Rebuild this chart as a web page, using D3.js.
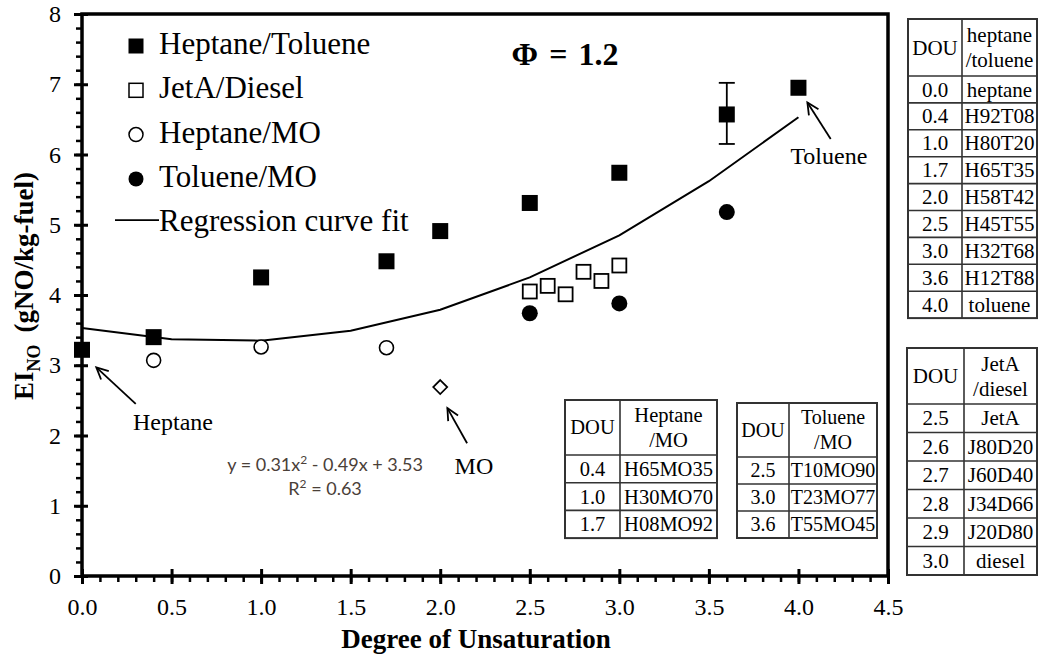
<!DOCTYPE html>
<html>
<head>
<meta charset="utf-8">
<script src="https://cdn.jsdelivr.net/npm/d3@7"></script>
<style>
  body { margin: 0; background: #fff; }
  svg { display: block; }
  text { font-family: "Liberation Serif", "Times New Roman", serif; fill: #000; }
</style>
</head>
<body>
<script>
// ---- data ----
var htX = [0.0, 0.4, 1.0, 1.7, 2.0, 2.5, 3.0, 3.6, 4.0];
var htY = [3.22, 3.40, 4.25, 4.48, 4.91, 5.31, 5.74, 6.57, 6.95];
var errX = 3.6, errLow = 6.15, errHigh = 7.02;

var jdX = [2.5, 2.6, 2.7, 2.8, 2.9, 3.0];
var jdY = [4.05, 4.13, 4.01, 4.33, 4.20, 4.42];

var hmX = [0.4, 1.0, 1.7];
var hmY = [3.07, 3.26, 3.25];

var tmX = [2.5, 3.0, 3.6];
var tmY = [3.74, 3.88, 5.18];

var moX = [2.0];
var moY = [2.69];

var fitX = [0.0, 0.5, 1.0, 1.5, 2.0, 2.5, 3.0, 3.5, 4.0];
var fitY = [3.53, 3.37, 3.35, 3.49, 3.79, 4.25, 4.85, 5.62, 6.53];

var xTicks = [0, 0.5, 1.0, 1.5, 2.0, 2.5, 3.0, 3.5, 4.0, 4.5];
var yTicks = [0, 1, 2, 3, 4, 5, 6, 7, 8];

var legendNames = ["Heptane/Toluene", "JetA/Diesel", "Heptane/MO", "Toluene/MO", "Regression curve fit"];

var tableHT = { head: ["heptane", "/toluene"],
  dou: ["0.0", "0.4", "1.0", "1.7", "2.0", "2.5", "3.0", "3.6", "4.0"],
  name: ["heptane", "H92T08", "H80T20", "H65T35", "H58T42", "H45T55", "H32T68", "H12T88", "toluene"] };
var tableJD = { head: ["JetA", "/diesel"],
  dou: ["2.5", "2.6", "2.7", "2.8", "2.9", "3.0"],
  name: ["JetA", "J80D20", "J60D40", "J34D66", "J20D80", "diesel"] };
var tableHM = { head: ["Heptane", "/MO"],
  dou: ["0.4", "1.0", "1.7"],
  name: ["H65MO35", "H30MO70", "H08MO92"] };
var tableTM = { head: ["Toluene", "/MO"],
  dou: ["2.5", "3.0", "3.6"],
  name: ["T10MO90", "T23MO77", "T55MO45"] };

// annotations in data units: [tipX, tipY, tailX, tailY, label, labelX, labelY]
var notes = [
  [0.08, 2.97, 0.30, 2.45, "Heptane", 0.285, 2.08],
  [2.04, 2.39, 2.15, 1.89, "MO", 2.08, 1.45],
  [4.05, 6.74, 4.18, 6.22, "Toluene", 3.955, 5.87]
];

// ---- layout ----
var W = 1038, H = 660;
var svg = d3.select("body").append("svg").attr("width", W).attr("height", H);

var x = d3.scaleLinear().domain([0, 4.5]).range([82, 888]);
var y = d3.scaleLinear().domain([0, 8]).range([576, 14]);

// minor ticks
var xMinor = d3.range(0, 45).map(function(i){ return i / 10; });
var yMinor = d3.range(0, 40).map(function(i){ return i / 5; });

svg.append("g").attr("transform", "translate(0," + y(0) + ")")
  .call(d3.axisBottom(x).tickValues(xMinor).tickSize(6).tickFormat(""))
  .call(function(g){ g.select(".domain").remove(); g.selectAll("line").attr("stroke-width", 2.5); });
svg.append("g").attr("transform", "translate(" + x(0) + ",0)")
  .call(d3.axisLeft(y).tickValues(yMinor).tickSize(6).tickFormat(""))
  .call(function(g){ g.select(".domain").remove(); g.selectAll("line").attr("stroke-width", 2.5); });

// major ticks, crossing the axis
var xAx = svg.append("g").attr("transform", "translate(0," + y(0) + ")")
  .call(d3.axisBottom(x).tickValues(xTicks).tickSize(8).tickPadding(14).tickFormat(d3.format(".1f")));
xAx.select(".domain").remove();
xAx.selectAll("line").attr("stroke-width", 3).attr("y1", -7);
xAx.selectAll("text").attr("font-size", 24).attr("font-family", "Liberation Serif");

var yAx = svg.append("g").attr("transform", "translate(" + x(0) + ",0)")
  .call(d3.axisLeft(y).tickValues(yTicks).tickSize(8).tickPadding(13).tickFormat(d3.format("d")));
yAx.select(".domain").remove();
yAx.selectAll("line").attr("stroke-width", 3).attr("x1", 6);
yAx.selectAll("text").attr("font-size", 24).attr("font-family", "Liberation Serif");

// frame
svg.append("rect")
  .attr("x", x(0)).attr("y", y(8))
  .attr("width", x(4.5) - x(0)).attr("height", y(0) - y(8))
  .attr("fill", "none").attr("stroke", "#000").attr("stroke-width", 3.5);

// axis titles
svg.append("text").attr("x", 476).attr("y", 648)
  .attr("text-anchor", "middle").attr("font-size", 27).attr("font-weight", "bold")
  .text("Degree of Unsaturation");

var yt = svg.append("text").attr("transform", "translate(33,400) rotate(-90)")
  .attr("font-size", 27).attr("font-weight", "bold");
yt.append("tspan").text("EI");
yt.append("tspan").attr("font-size", 18).attr("dy", 7).text("NO");
yt.append("tspan").attr("dy", -7).attr("dx", 12).text("(gNO/kg-fuel)");

// regression curve
var line = d3.line().x(function(d){ return x(d[0]); }).y(function(d){ return y(d[1]); });
svg.append("path").datum(d3.zip(fitX, fitY))
  .attr("d", line).attr("fill", "none").attr("stroke", "#000").attr("stroke-width", 2);

// error bar
var eb = svg.append("g").attr("stroke", "#000").attr("stroke-width", 1.8);
eb.append("line").attr("x1", x(errX)).attr("x2", x(errX)).attr("y1", y(errLow)).attr("y2", y(errHigh));
[errLow, errHigh].forEach(function(v){
  eb.append("line").attr("x1", x(errX) - 8).attr("x2", x(errX) + 8).attr("y1", y(v)).attr("y2", y(v));
});

// markers
function squares(xs, ys, s, filled){
  svg.append("g").selectAll("rect").data(d3.zip(xs, ys)).enter().append("rect")
    .attr("x", function(d){ return x(d[0]) - s / 2; })
    .attr("y", function(d){ return y(d[1]) - s / 2; })
    .attr("width", s).attr("height", s)
    .attr("fill", filled ? "#000" : "#fff")
    .attr("stroke", "#000").attr("stroke-width", filled ? 0 : 1.8);
}
function circles(xs, ys, r, filled){
  svg.append("g").selectAll("circle").data(d3.zip(xs, ys)).enter().append("circle")
    .attr("cx", function(d){ return x(d[0]); })
    .attr("cy", function(d){ return y(d[1]); })
    .attr("r", r)
    .attr("fill", filled ? "#000" : "#fff")
    .attr("stroke", "#000").attr("stroke-width", filled ? 0 : 1.6);
}
squares(htX, htY, 16, true);
squares(jdX, jdY, 14, false);
circles(hmX, hmY, 7, false);
circles(tmX, tmY, 8, true);

svg.append("g").selectAll("path").data(d3.zip(moX, moY)).enter().append("path")
  .attr("d", function(d){
    var cx = x(d[0]), cy = y(d[1]), r = 7;
    return "M" + cx + "," + (cy - r) + "L" + (cx + r) + "," + cy + "L" + cx + "," + (cy + r) + "L" + (cx - r) + "," + cy + "Z";
  })
  .attr("fill", "#fff").attr("stroke", "#000").attr("stroke-width", 1.7);

// annotations with open arrows
notes.forEach(function(n){
  var tx = x(n[0]), ty = y(n[1]), sx = x(n[2]), sy = y(n[3]);
  var a = Math.atan2(ty - sy, tx - sx), L = 13, spread = 0.45;
  svg.append("line").attr("x1", sx).attr("y1", sy).attr("x2", tx).attr("y2", ty)
    .attr("stroke", "#000").attr("stroke-width", 1.8);
  svg.append("path")
    .attr("d", "M" + (tx - L * Math.cos(a - spread)) + "," + (ty - L * Math.sin(a - spread)) +
               "L" + tx + "," + ty +
               "L" + (tx - L * Math.cos(a + spread)) + "," + (ty - L * Math.sin(a + spread)))
    .attr("fill", "none").attr("stroke", "#000").attr("stroke-width", 1.8);
  svg.append("text").attr("x", x(n[5])).attr("y", y(n[6])).attr("font-size", 24).text(n[4]);
});

// regression equation
var eqStyle = function(t){
  t.attr("text-anchor", "middle").attr("font-size", 18)
   .style("font-family", "Lato, 'Open Sans', sans-serif").style("fill", "#4a4038");
};
var eq = svg.append("text").attr("x", x(1.357)).attr("y", y(1.49)).call(eqStyle);
eq.append("tspan").text("y = 0.31x");
eq.append("tspan").attr("font-size", 12).attr("dy", -7).text("2");
eq.append("tspan").attr("dy", 7).text(" - 0.49x + 3.53");
var r2 = svg.append("text").attr("x", x(1.357)).attr("y", y(1.15)).call(eqStyle);
r2.append("tspan").text("R");
r2.append("tspan").attr("font-size", 12).attr("dy", -7).text("2");
r2.append("tspan").attr("dy", 7).text(" = 0.63");

// phi label
svg.append("text").attr("x", 565).attr("y", 65).attr("text-anchor", "middle")
  .attr("font-size", 32).attr("font-weight", "bold").style("word-spacing", "3px").text("\u03A6 = 1.2");

// legend
var lg = svg.append("g");
legendNames.forEach(function(name, i){
  var cy = 46 + i * 44.3;
  var mx = 136;
  if (i === 0) lg.append("rect").attr("x", mx - 7.5).attr("y", cy - 7.5).attr("width", 15).attr("height", 15).attr("fill", "#000");
  if (i === 1) lg.append("rect").attr("x", mx - 7).attr("y", cy - 7).attr("width", 14).attr("height", 14).attr("fill", "#fff").attr("stroke", "#000").attr("stroke-width", 1.5);
  if (i === 2) lg.append("circle").attr("cx", mx).attr("cy", cy).attr("r", 7).attr("fill", "#fff").attr("stroke", "#000").attr("stroke-width", 1.5);
  if (i === 3) lg.append("circle").attr("cx", mx).attr("cy", cy).attr("r", 7.5).attr("fill", "#000");
  if (i === 4) lg.append("line").attr("x1", 115).attr("x2", 159).attr("y1", cy - 3).attr("y2", cy - 3).attr("stroke", "#000").attr("stroke-width", 1.8);
  lg.append("text").attr("x", 159).attr("y", cy + 8).attr("font-size", 31).text(name);
});

// tables
function drawTable(t, bx, by, w, c1, headH, rowH, fs){
  var g = svg.append("g");
  var h = headH + rowH * t.dou.length;
  g.append("rect").attr("x", bx).attr("y", by).attr("width", w).attr("height", h)
    .attr("fill", "#fff").attr("stroke", "#333").attr("stroke-width", 2);
  g.append("line").attr("x1", bx + c1).attr("x2", bx + c1).attr("y1", by).attr("y2", by + h)
    .attr("stroke", "#333").attr("stroke-width", 1.6);
  for (var i = 0; i < t.dou.length; i++) {
    var ly = by + headH + rowH * i;
    g.append("line").attr("x1", bx).attr("x2", bx + w).attr("y1", ly).attr("y2", ly)
      .attr("stroke", "#333").attr("stroke-width", 1.6);
    g.append("text").attr("x", bx + c1 / 2).attr("y", ly + rowH / 2 + fs * 0.34)
      .attr("text-anchor", "middle").attr("font-size", fs).text(t.dou[i]);
    g.append("text").attr("x", bx + c1 + (w - c1) / 2).attr("y", ly + rowH / 2 + fs * 0.34)
      .attr("text-anchor", "middle").attr("font-size", fs).text(t.name[i]);
  }
  g.append("text").attr("x", bx + c1 / 2).attr("y", by + headH / 2 + fs * 0.34)
    .attr("text-anchor", "middle").attr("font-size", fs).text("DOU");
  t.head.forEach(function(s, k){
    g.append("text").attr("x", bx + c1 + (w - c1) / 2).attr("y", by + headH / 2 + fs * 0.34 + (k - 0.5) * 25)
      .attr("text-anchor", "middle").attr("font-size", fs).text(s);
  });
}
drawTable(tableHT, 908, 19, 129, 54, 57, 26.9, 21);
drawTable(tableJD, 907, 348, 130, 57, 56, 28.5, 21);
drawTable(tableHM, 565, 400, 152, 55, 55, 27.7, 20.5);
drawTable(tableTM, 737, 403, 140, 52, 54, 27, 20);
</script>
</body>
</html>
